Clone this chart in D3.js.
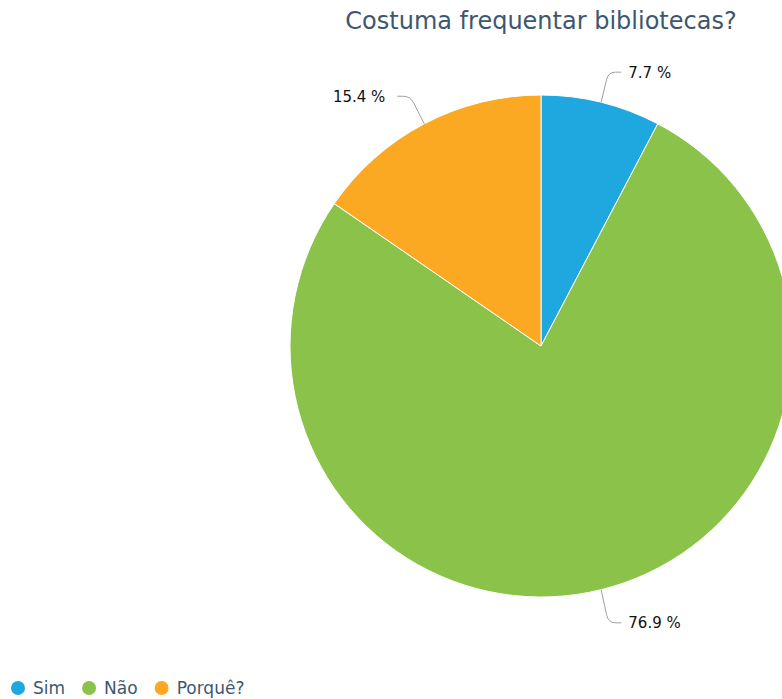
<!DOCTYPE html>
<html>
<head>
<meta charset="utf-8">
<script src="https://cdn.jsdelivr.net/npm/d3@7"></script>
<style>
  body { margin: 0; background: #fff; }
  svg { display: block; font-family: "DejaVu Sans", sans-serif; }
</style>
</head>
<body>
<div id="chart"></div>
<script>
/* Pie chart - costuma frequentar bibliotecas? */

const categories = ["Sim", "Não", "Porquê?"];
const values = [7.7, 76.9, 15.4];
const colors = ["#1fa7df", "#8bc34a", "#fba823"];

const width = 782,
    height = 699,
    cx = 541, cy = 346, // pie centre
    radius = 251;

let data = categories.map((c, i) => ({name: c, value: values[i], color: colors[i]}));

let svg = d3.select('#chart')
    .append('svg')
    .attr('width', width)
    .attr('height', height)
    .attr('viewBox', [0, 0, width, height]);

// title
svg.append('text')
    .attr('x', cx)
    .attr('y', 29)
    .attr('text-anchor', 'middle')
    .attr('fill', '#3e576f')
    .attr('font-size', 24)
    .text('Costuma frequentar bibliotecas?');

let pie = d3.pie()
    .sort(null) // keep order, start at top going clockwise
    .value(d => d.value);

let arc = d3.arc()
    .innerRadius(0)
    .outerRadius(radius);

let arcs = pie(data);

let g = svg.append('g')
    .attr('transform', `translate(${cx}, ${cy})`);

g.selectAll('path.slice')
    .data(arcs)
    .join('path')
    .attr('class', 'slice')
    .attr('d', arc)
    .attr('fill', d => d.data.color)
    .attr('stroke', '#fff')
    .attr('stroke-width', 1);

// data labels with connectors
const dist = 30;
const mid = d => (d.startAngle + d.endAngle) / 2;
// labels below the centre sit a little lower
const labelY = d => -(radius + dist) * Math.cos(mid(d)) + (Math.cos(mid(d)) < 0 ? 4 : -1);

let lbl = g.selectAll('g.lbl')
    .data(arcs)
    .join('g')
    .attr('class', 'lbl');

lbl.append('path')
    .attr('fill', 'none')
    .attr('stroke', '#a0a0a0')
    .attr('stroke-width', 1)
    .attr('d', d => {
        let a = mid(d);
        let s = Math.sin(a), c = -Math.cos(a);
        let side = s >= 0 ? 1 : -1;
        let ex = radius * s, ey = radius * c; // edge point
        let ay = labelY(d);
        let ax = (radius + dist) * s;
        let bx = ex + (ax - ex) * 0.75, by = ey + (ay - ey) * 0.75;
        return `M${ex},${ey}L${bx},${by}Q${ax},${ay} ${ax + side * 7},${ay}L${ax + side * 13},${ay}`;
    });

lbl.append('text')
    .attr('x', d => {
        let s = Math.sin(mid(d));
        return (radius + dist) * s + (s >= 0 ? 20 : -25);
    })
    .attr('y', labelY)
    .attr('dy', '0.36em')
    .attr('text-anchor', d => Math.sin(mid(d)) >= 0 ? 'start' : 'end')
    .attr('font-size', 15)
    .attr('fill', '#111')
    .text(d => d.data.value + ' %');

// legend
let legend = svg.append('g')
    .attr('transform', 'translate(0, 688)');

let lx = 18;
data.forEach(d => {
    let item = legend.append('g');
    item.append('circle')
        .attr('cx', lx)
        .attr('cy', 0)
        .attr('r', 7)
        .attr('fill', d.color);
    let t = item.append('text')
        .attr('x', lx + 15)
        .attr('y', 0)
        .attr('dy', '0.36em')
        .attr('font-size', 17)
        .attr('fill', '#3e576f')
        .text(d.name);
    lx += 15 + t.node().getComputedTextLength() + 24;
});
</script>
</body>
</html>
